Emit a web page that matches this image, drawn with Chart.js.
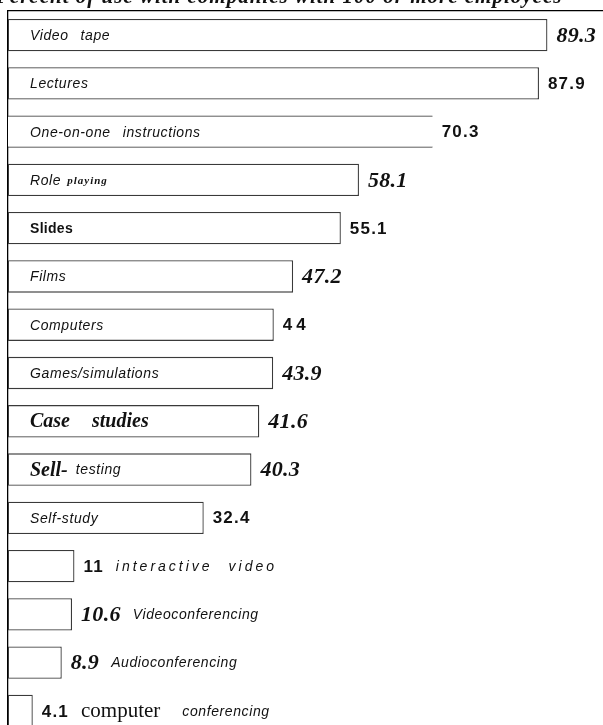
<!DOCTYPE html>
<html>
<head>
<meta charset="utf-8">
<script src="https://cdn.jsdelivr.net/npm/chart.js@4/dist/chart.umd.min.js"></script>
<style>
  html, body { margin: 0; padding: 0; background: #fff; overflow: hidden; }
  #wrap { width: 603px; height: 740px; }
</style>
</head>
<body>
<div id="wrap"><canvas id="c" width="603" height="740"></canvas></div>
<script>
// ---- data ----
const chartTitle = "Percent of use with companies with 100 or more employees";
const categories = [
  "Video tape", "Lectures", "One-on-one instructions", "Role playing", "Slides",
  "Films", "Computers", "Games/simulations", "Case studies", "Sell- testing",
  "Self-study", "interactive video", "Videoconferencing", "Audioconferencing",
  "computer conferencing"
];
const values = [89.3, 87.9, 70.3, 58.1, 55.1, 47.2, 44, 43.9, 41.6, 40.3, 32.4, 11, 10.6, 8.9, 4.1];
const valueLabels = ["89.3", "87.9", "70.3", "58.1", "55.1", "47.2", "44", "43.9", "41.6", "40.3", "32.4", "11", "10.6", "8.9", "4.1"];

// ---- styles (kept apart from data) ----
const SANS = '"Liberation Sans", Arial, sans-serif';
const SERIF = '"Liberation Serif", "Times New Roman", serif';
const fonts = {
  sansI:   { font: 'italic 14px ' + SANS, ls: 0.6 },
  sansB:   { font: 'bold 14px ' + SANS, ls: 0.3 },
  small:   { font: 'bold italic 11px ' + SERIF, ls: 1 },
  serifBI: { font: 'bold italic 20px ' + SERIF, ls: 0 },
  serif:   { font: '21px ' + SERIF, ls: 0 },
  spaced:  { font: 'italic 14px ' + SANS, ls: 3 },
  valSerif:{ font: 'bold italic 22px ' + SERIF, ls: 0.3 },
  valSans: { font: 'bold 17px ' + SANS, ls: 1.2 },
  valSans44:{ font: 'bold 17px ' + SANS, ls: 4 },
  title:   { font: 'bold italic 21px ' + SERIF, ls: 1 }
};
const wordFonts = [
  ['sansI','sansI'], ['sansI'], ['sansI','sansI'], ['sansI','small'], ['sansB'],
  ['sansI'], ['sansI'], ['sansI'], ['serifBI','serifBI'], ['serifBI','sansI'],
  ['sansI'], ['spaced','spaced'], ['sansI'], ['sansI'], ['serif','sansI']
];
const wordGaps = [12, 6, 12, 6, 6, 6, 6, 6, 22, 8, 6, 16, 6, 6, 22];
const valueFonts = ['valSerif','valSans','valSans','valSerif','valSans','valSerif','valSans44',
  'valSerif','valSerif','valSerif','valSans','valSans','valSerif','valSerif','valSans'];

function setFont(ctx, key) {
  const f = fonts[key];
  ctx.font = f.font;
  try { ctx.letterSpacing = f.ls + 'px'; } catch (e) {}
}

const labelPlugin = {
  id: 'barLabels',
  afterDraw(chart) {
    const ctx = chart.ctx;
    const meta = chart.getDatasetMeta(0);
    ctx.save();
    ctx.fillStyle = '#111';
    ctx.textAlign = 'left';
    // title, cropped by the top of the window
    setFont(ctx, 'title');
    ctx.textBaseline = 'alphabetic';
    ctx.fillText(chartTitle, -4, 3);
    ctx.textBaseline = 'middle';

    meta.data.forEach((bar, i) => {
      const y = bar.y + 1;
      // value label
      setFont(ctx, valueFonts[i]);
      const vx = bar.x + 9;
      ctx.fillText(valueLabels[i], vx, y);
      const vw = ctx.measureText(valueLabels[i]).width;
      // category label
      const words = categories[i].split(' ');
      let x = values[i] > 20 ? bar.base + 22 : vx + vw + 12;
      words.forEach((w, k) => {
        setFont(ctx, wordFonts[i][k]);
        ctx.fillText(w, x, y);
        x += ctx.measureText(w).width + wordGaps[i];
      });
    });
    ctx.restore();
  }
};

new Chart(document.getElementById('c'), {
  type: 'bar',
  data: {
    labels: categories,
    datasets: [{
      data: values,
      backgroundColor: '#ffffff',
      borderColor: '#3a3a3a',
      borderWidth: (c) => c.dataIndex === 2
        ? { top: 1.3, bottom: 1.3, left: 0, right: 0 }
        : { top: 1.3, bottom: 1.3, left: 1, right: 1.3 },
      borderSkipped: false,
      categoryPercentage: 1,
      barPercentage: 0.67
    }]
  },
  options: {
    indexAxis: 'y',
    responsive: false,
    animation: false,
    devicePixelRatio: 1,
    layout: { padding: { top: 11, left: 8, right: 0, bottom: 5 } },
    plugins: { legend: { display: false }, tooltip: { enabled: false }, title: { display: false } },
    scales: {
      x: {
        position: 'top',
        min: 0, max: 98.5,
        ticks: { display: false },
        grid: { display: false, drawTicks: false },
        border: { display: true, color: '#000', width: 1.3 }
      },
      y: {
        ticks: { display: false },
        grid: { display: false, drawTicks: false },
        border: { display: true, color: '#000', width: 1.3 }
      }
    }
  },
  plugins: [labelPlugin]
});
</script>
</body>
</html>
